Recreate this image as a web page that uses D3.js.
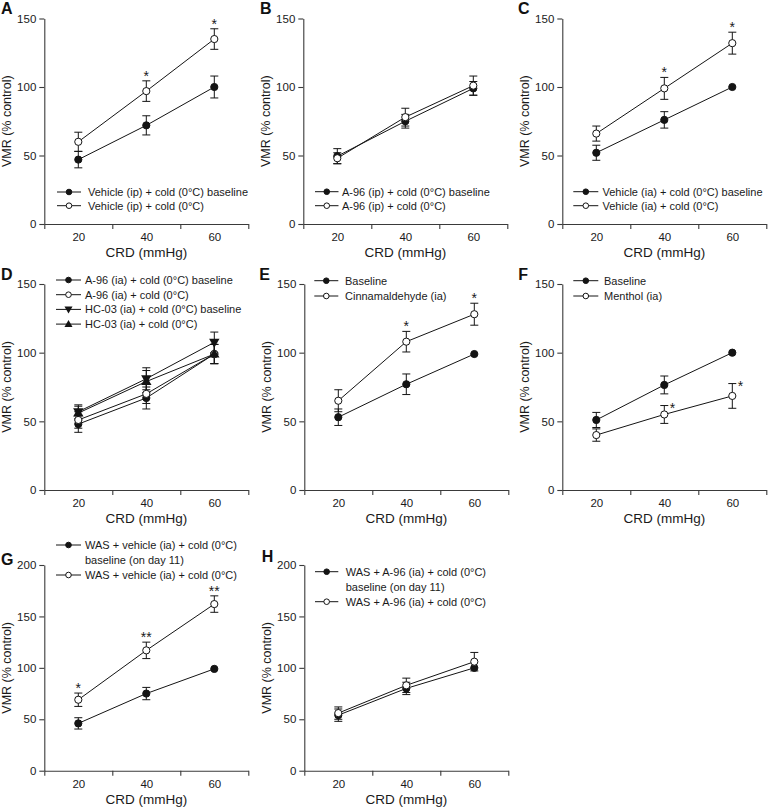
<!DOCTYPE html>
<html>
<head>
<meta charset="utf-8">
<script src="https://cdn.jsdelivr.net/npm/d3@7"></script>
<style>
  html, body { margin: 0; padding: 0; background: #fff; }
  svg { display: block; font-family: "Liberation Sans", Arial, Helvetica, sans-serif; }
</style>
</head>
<body>
<svg id="chart" width="768" height="807"></svg>
<script>
// ---------------- DATA ----------------
const crd = [20, 40, 60];
const xTickLabels = [20, 40, 60];
const yTicks150 = [0, 50, 100, 150];
const yTicks200 = [0, 50, 100, 150, 200];

// A
const aBaseline = [47, 72, 100];
const aBaselineErr = [6, 7, 8];
const aCold = [60, 97, 135];
const aColdErr = [7, 7.5, 7.5];
const aStars = ["", "*", "*"];
// B
const bBaseline = [49.5, 75, 99];
const bBaselineErr = [5.5, 5, 5];
const bCold = [48, 78, 101];
const bColdErr = [4, 6.5, 7];
// C
const cBaseline = [52, 76, 100];
const cBaselineErr = [5.5, 6, 0];
const cCold = [66, 99, 132];
const cColdErr = [5.5, 8, 8];
const cStars = ["", "*", "*"];
// D
const dA96Base = [48, 67, 99];
const dA96BaseErr = [6, 8, 7];
const dA96Cold = [51, 70, 99];
const dA96ColdErr = [6, 7, 7];
const dHCBase = [57, 81, 107.5];
const dHCBaseErr = [5, 8, 7.5];
const dHCCold = [56, 79, 99];
const dHCColdErr = [5, 8, 7];
// E
const eBaseline = [53, 77, 99];
const eBaselineErr = [6, 7.5, 0];
const eCold = [65, 108, 128];
const eColdErr = [8, 7.5, 8];
const eStars = ["", "*", "*"];
// F
const fBaseline = [51, 76.5, 100];
const fBaselineErr = [5.5, 6.5, 0];
const fMenthol = [40, 55, 68.5];
const fMentholErr = [4.5, 6.5, 9];
const fStars = ["", "*", "*"];
// G
const gBaseline = [46, 75, 99];
const gBaselineErr = [5.5, 6, 0];
const gCold = [69, 117, 162];
const gColdErr = [6.5, 8, 8];
const gStars = ["*", "**", "**"];
// H
const hBaseline = [54, 80, 100];
const hBaselineErr = [6, 6, 0];
const hCold = [56, 83, 106];
const hColdErr = [6, 7, 9];

// ---------------- PANELS ----------------
const panels = [
  { letter: "A", ax: 44.3, yTop: 18.5, yBot: 224, ymax: 150, yTicks: yTicks150, lx: 1, ly: 14,
    leg: { x1: 57, x2: 81, tx: 88, rows: [192, 205.7] },
    series: [
      { name: ["Vehicle (ip) + cold (0°C) baseline"], v: aBaseline, e: aBaselineErr, m: "filled" },
      { name: ["Vehicle (ip) + cold (0°C)"], v: aCold, e: aColdErr, m: "open", stars: aStars }
    ] },
  { letter: "B", ax: 303.3, yTop: 18.5, yBot: 224, ymax: 150, yTicks: yTicks150, lx: 260, ly: 14,
    leg: { x1: 315, x2: 338.5, tx: 342, rows: [191.7, 205.7] },
    series: [
      { name: ["A-96 (ip) + cold (0°C) baseline"], v: bBaseline, e: bBaselineErr, m: "filled" },
      { name: ["A-96 (ip) + cold (0°C)"], v: bCold, e: bColdErr, m: "open" }
    ] },
  { letter: "C", ax: 562.3, yTop: 18.5, yBot: 224, ymax: 150, yTicks: yTicks150, lx: 518, ly: 14,
    leg: { x1: 573.3, x2: 598.3, tx: 602.5, rows: [191.7, 205.7] },
    series: [
      { name: ["Vehicle (ia) + cold (0°C) baseline"], v: cBaseline, e: cBaselineErr, m: "filled" },
      { name: ["Vehicle (ia) + cold (0°C)"], v: cCold, e: cColdErr, m: "open", stars: cStars }
    ] },
  { letter: "D", ax: 44.3, yTop: 284, yBot: 490, ymax: 150, yTicks: yTicks150, lx: 1, ly: 280,
    leg: { x1: 56, x2: 81, tx: 85, rows: [280, 294.7, 309.4, 324.1] },
    series: [
      { name: ["A-96 (ia) + cold (0°C) baseline"], v: dA96Base, e: dA96BaseErr, m: "filled" },
      { name: ["A-96 (ia) + cold (0°C)"], v: dA96Cold, e: dA96ColdErr, m: "open" },
      { name: ["HC-03 (ia) + cold (0°C) baseline"], v: dHCBase, e: dHCBaseErr, m: "down" },
      { name: ["HC-03 (ia) + cold (0°C)"], v: dHCCold, e: dHCColdErr, m: "up" }
    ] },
  { letter: "E", ax: 304.3, yTop: 284, yBot: 490, ymax: 150, yTicks: yTicks150, lx: 259.3, ly: 280,
    leg: { x1: 314.3, x2: 338.3, tx: 345, rows: [280.7, 296] },
    series: [
      { name: ["Baseline"], v: eBaseline, e: eBaselineErr, m: "filled" },
      { name: ["Cinnamaldehyde (ia)"], v: eCold, e: eColdErr, m: "open", stars: eStars }
    ] },
  { letter: "F", ax: 562.3, yTop: 284, yBot: 490, ymax: 150, yTicks: yTicks150, lx: 518.3, ly: 280,
    leg: { x1: 573.3, x2: 598.3, tx: 604, rows: [280.7, 296] },
    series: [
      { name: ["Baseline"], v: fBaseline, e: fBaselineErr, m: "filled" },
      { name: ["Menthol (ia)"], v: fMenthol, e: fMentholErr, m: "open", stars: fStars, starSide: true }
    ] },
  { letter: "G", ax: 44.3, yTop: 565, yBot: 770.7, ymax: 200, yTicks: yTicks200, lx: 1, ly: 565,
    leg: { x1: 56, x2: 81, tx: 85, rows: [545, 575], lineGap: 15 },
    series: [
      { name: ["WAS + vehicle (ia) + cold (0°C)", "baseline (on day 11)"], v: gBaseline, e: gBaselineErr, m: "filled" },
      { name: ["WAS + vehicle (ia) + cold (0°C)"], v: gCold, e: gColdErr, m: "open", stars: gStars }
    ] },
  { letter: "H", ax: 304.3, yTop: 565, yBot: 770.7, ymax: 200, yTicks: yTicks200, lx: 261.7, ly: 562.3,
    leg: { x1: 315, x2: 338.3, tx: 345.7, rows: [571.7, 601.7], lineGap: 15 },
    series: [
      { name: ["WAS + A-96 (ia) + cold (0°C)", "baseline (on day 11)"], v: hBaseline, e: hBaselineErr, m: "filled" },
      { name: ["WAS + A-96 (ia) + cold (0°C)"], v: hCold, e: hColdErr, m: "open" }
    ] }
];

const svg = d3.select("#chart");
const AXIS = "#3a3a3a", INK = "#141414", TXT = "#1a1a1a";
const plotW = 204;

function drawMarker(g, type, x, y, r) {
  if (type === "filled" || type === "open") {
    g.append("circle").attr("cx", x).attr("cy", y).attr("r", r)
      .attr("fill", type === "filled" ? INK : "#fff")
      .attr("stroke", INK).attr("stroke-width", 1);
  } else {
    const sym = d3.symbol().type(d3.symbolTriangle).size(r * r * 3.6);
    g.append("path").attr("d", sym())
      .attr("transform", `translate(${x},${y + (type === "down" ? -0.5 : 0.5)}) rotate(${type === "down" ? 180 : 0})`)
      .attr("fill", INK);
  }
}

panels.forEach(p => {
  const g = svg.append("g");
  const x = d3.scaleLinear().domain([10, 70]).range([p.ax, p.ax + plotW]);
  const y = d3.scaleLinear().domain([0, p.ymax]).range([p.yBot, p.yTop]);

  // y axis
  const ya = g.append("g").attr("transform", `translate(${p.ax},0)`)
    .call(d3.axisLeft(y).tickValues(p.yTicks).tickSize(5).tickPadding(3).tickSizeOuter(0));
  // x axis ticks (between labels)
  const xa = g.append("g").attr("transform", `translate(0,${p.yBot})`)
    .call(d3.axisBottom(x).tickValues([10, 30, 50, 70]).tickFormat("").tickSize(5).tickSizeOuter(0));
  // x axis labels
  const xl = g.append("g").attr("transform", `translate(0,${p.yBot})`)
    .call(d3.axisBottom(x).tickValues(xTickLabels).tickSize(0).tickPadding(9));
  xl.select(".domain").remove();
  [ya, xa, xl].forEach(a => {
    a.selectAll("path,line").attr("stroke", AXIS).attr("stroke-width", 1.1);
    a.selectAll("text").attr("fill", TXT).style("font-size", "11.5px")
      .style("font-family", '"Liberation Sans", Arial, sans-serif');
  });

  // titles
  g.append("text").attr("x", x(40)).attr("y", p.yBot + 33).attr("text-anchor", "middle")
    .attr("fill", TXT).style("font-size", "13.5px").text("CRD (mmHg)");
  g.append("text").attr("transform", `translate(${p.ax - 33.5},${(p.yTop + p.yBot) / 2}) rotate(-90)`)
    .attr("text-anchor", "middle").attr("fill", TXT).style("font-size", "12.5px").text("VMR (% control)");
  g.append("text").attr("x", p.lx).attr("y", p.ly).attr("fill", "#111")
    .style("font-size", "16px").style("font-weight", "bold").text(p.letter);

  // lines
  const line = d3.line().x((d, i) => x(crd[i])).y(d => y(d));
  p.series.forEach(s => {
    g.append("path").datum(s.v).attr("d", line).attr("fill", "none")
      .attr("stroke", INK).attr("stroke-width", 1);
  });
  // error bars
  p.series.forEach(s => {
    s.v.forEach((v, i) => {
      const e = s.e[i];
      if (!e) return;
      const cx = x(crd[i]);
      const y1 = y(v + e), y2 = y(v - e);
      g.append("line").attr("x1", cx).attr("x2", cx).attr("y1", y1).attr("y2", y2)
        .attr("stroke", INK).attr("stroke-width", 1);
      [y1, y2].forEach(yy => g.append("line").attr("x1", cx - 4).attr("x2", cx + 4)
        .attr("y1", yy).attr("y2", yy).attr("stroke", INK).attr("stroke-width", 1));
    });
  });
  // markers
  p.series.forEach(s => {
    s.v.forEach((v, i) => drawMarker(g, s.m, x(crd[i]), y(v), 3.6));
  });
  // stars
  p.series.forEach(s => {
    if (!s.stars) return;
    s.v.forEach((v, i) => {
      if (!s.stars[i]) return;
      const top = y(v + s.e[i]);
      const t = g.append("text").attr("fill", TXT).style("font-size", "14px").text(s.stars[i]);
      if (s.starSide) t.attr("x", x(crd[i]) + 5.5).attr("y", top + 7);
      else t.attr("x", x(crd[i])).attr("y", top).attr("text-anchor", "middle");
    });
  });

  // legend
  p.series.forEach((s, k) => {
    const ry = p.leg.rows[k];
    g.append("line").attr("x1", p.leg.x1).attr("x2", p.leg.x2).attr("y1", ry).attr("y2", ry)
      .attr("stroke", INK).attr("stroke-width", 1);
    drawMarker(g, s.m, (p.leg.x1 + p.leg.x2) / 2, ry, 2.8);
    s.name.forEach((nm, j) => {
      g.append("text").attr("x", p.leg.tx).attr("y", ry + j * (p.leg.lineGap || 14))
        .attr("dy", "0.35em").attr("fill", TXT).style("font-size", "11px").text(nm);
    });
  });
});
</script>
</body>
</html>
